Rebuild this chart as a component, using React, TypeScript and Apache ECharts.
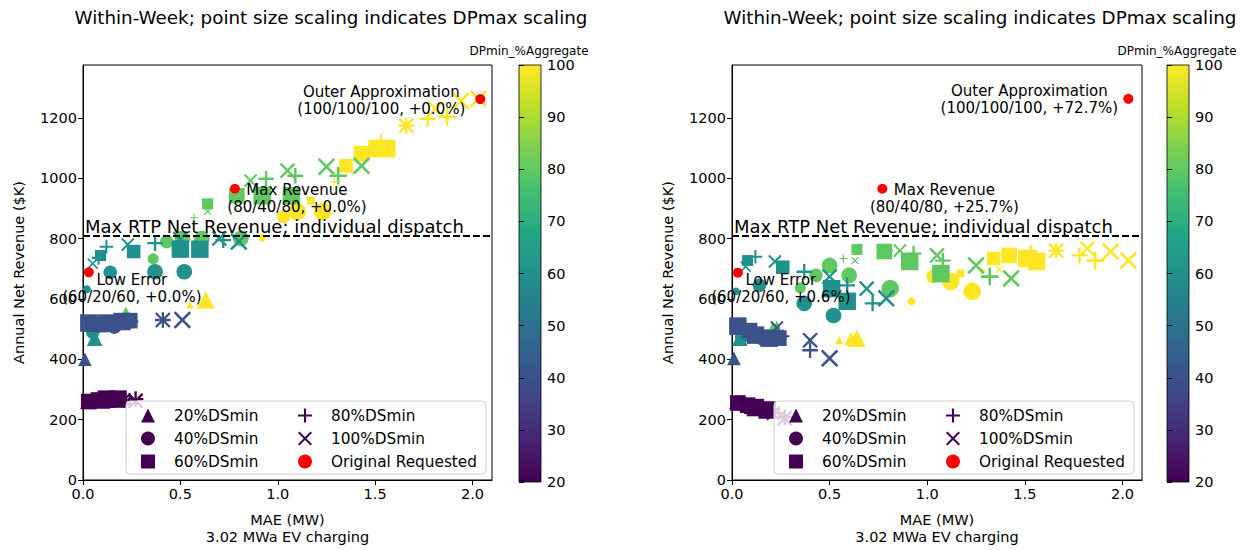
import React, { useEffect, useRef } from 'react';
import * as echarts from 'echarts';

// ---------- text ----------
const TITLE = 'Within-Week; point size scaling indicates DPmax scaling';
const X_NAME = 'MAE (MW)\n3.02 MWa EV charging';
const Y_NAME = 'Annual Net Revenue ($K)';
const CB_NAME = 'DPmin_%Aggregate';
const DS_NAMES = ['20%DSmin', '40%DSmin', '60%DSmin', '80%DSmin', '100%DSmin'];
const ORIG_NAME = 'Original Requested';
const RTP_LABEL = 'Max RTP Net Revenue; individual dispatch';
const RTP_LINE = 810;

// ---------- axes ----------
const X_MIN = 0, X_MAX = 2.1, X_TICK = 0.5;
const Y_MIN = 0, Y_MAX = 1375, Y_TICK = 200;
const X_TICKS = [0, 0.5, 1.0, 1.5, 2.0];
const Y_TICKS = [0, 200, 400, 600, 800, 1000, 1200];
const CB_MIN = 20, CB_MAX = 100, CB_TICK = 10;

const VIRIDIS = ['#440154', '#482475', '#414487', '#355f8d', '#2a788e', '#21918c', '#22a884', '#44bf70', '#7ad151', '#bddf26', '#fde725'];

// ---------- data: [MAE, revenue $K, DPmin %, DPmax %] ----------
// Left panel
const leftDS20 = [
  [0.02, 258, 20, 60], [0.10, 262, 20, 80],
  [0.01, 400, 40, 60], [0.05, 510, 40, 40],
  [0.06, 470, 60, 80],
  [0.22, 562, 80, 20],
  [0.55, 580, 100, 20], [0.63, 597, 100, 100],
];
const leftDS40 = [
  [0.04, 262, 20, 40], [0.14, 265, 20, 60],
  [0.02, 515, 40, 40], [0.06, 505, 40, 60], [0.16, 510, 40, 80],
  [0.02, 632, 60, 20], [0.05, 490, 60, 60], [0.14, 688, 60, 60], [0.37, 690, 60, 80], [0.52, 690, 60, 80],
  [0.36, 733, 80, 40], [0.43, 790, 80, 60], [0.51, 800, 80, 80], [0.61, 800, 80, 80], [0.81, 800, 80, 80],
  [0.92, 803, 100, 20], [1.03, 873, 100, 60], [1.10, 889, 100, 100], [1.23, 889, 100, 100],
];
const leftDS60 = [
  [0.03, 260, 20, 80], [0.08, 265, 20, 80], [0.12, 268, 20, 100], [0.18, 268, 20, 100],
  [0.03, 520, 40, 100], [0.09, 515, 40, 80], [0.12, 520, 40, 100], [0.20, 525, 40, 100], [0.24, 528, 40, 80],
  [0.09, 744, 60, 40], [0.26, 757, 60, 60], [0.50, 765, 60, 100], [0.60, 765, 60, 100],
  [0.64, 915, 80, 40], [0.79, 942, 80, 80], [0.92, 942, 80, 100], [1.07, 942, 80, 100],
  [1.17, 925, 100, 20], [1.35, 1041, 100, 60], [1.43, 1081, 100, 80], [1.51, 1098, 100, 100], [1.56, 1098, 100, 100],
];
const leftDS80 = [
  [0.24, 265, 20, 60], [0.27, 268, 20, 80],
  [0.25, 525, 40, 60], [0.41, 530, 40, 80],
  [0.08, 736, 60, 60], [0.12, 773, 60, 60], [0.37, 785, 60, 80], [0.72, 795, 60, 80],
  [0.57, 869, 80, 20], [0.94, 998, 80, 80], [1.09, 1008, 80, 80], [1.31, 1008, 80, 100],
  [1.29, 988, 100, 20], [1.53, 1124, 100, 60], [1.66, 1174, 100, 80], [1.77, 1197, 100, 80], [1.87, 1203, 100, 100],
];
const leftDS100 = [
  [0.21, 265, 20, 60], [0.27, 262, 20, 80],
  [0.41, 530, 40, 80], [0.51, 530, 40, 100],
  [0.05, 717, 60, 40], [0.23, 780, 60, 60], [0.50, 798, 60, 80], [0.70, 800, 60, 80], [0.80, 790, 60, 100],
  [0.64, 890, 80, 20], [0.86, 992, 80, 60], [1.05, 1025, 80, 80], [1.25, 1038, 80, 100], [1.43, 1041, 80, 100],
  [1.37, 1025, 100, 20], [1.66, 1174, 100, 80], [1.81, 1230, 100, 80], [1.94, 1256, 100, 100], [2.03, 1263, 100, 100],
];
const leftOrig = [[0.03, 688], [0.78, 965], [2.04, 1262]];
const leftOrigLabels = ['Low Error\n(60/20/60, +0.0%)', 'Max Revenue\n(80/40/80, +0.0%)', 'Outer Approximation\n(100/100/100, +0.0%)'];

// Right panel
const rightDS20 = [
  [0.02, 258, 20, 60], [0.10, 245, 20, 80],
  [0.01, 403, 40, 60],
  [0.04, 470, 60, 80],
  [0.21, 512, 80, 20], [0.23, 515, 80, 20],
  [0.55, 463, 100, 20], [0.61, 468, 100, 60], [0.64, 470, 100, 100],
];
const rightDS40 = [
  [0.04, 255, 20, 40], [0.14, 235, 20, 60],
  [0.02, 505, 40, 40], [0.06, 490, 40, 60], [0.16, 470, 40, 80],
  [0.02, 625, 60, 20], [0.05, 475, 60, 60], [0.14, 645, 60, 60], [0.37, 585, 60, 80], [0.52, 545, 60, 80],
  [0.35, 637, 80, 40], [0.43, 678, 80, 60], [0.50, 711, 80, 80], [0.60, 678, 80, 80], [0.81, 634, 80, 100],
  [0.92, 592, 100, 20], [1.03, 674, 100, 60], [1.12, 658, 100, 100], [1.23, 625, 100, 100],
];
const rightDS60 = [
  [0.03, 255, 20, 80], [0.08, 248, 20, 80], [0.12, 240, 20, 100], [0.18, 232, 20, 100],
  [0.03, 510, 40, 100], [0.09, 495, 40, 80], [0.12, 480, 40, 100], [0.19, 470, 40, 100], [0.24, 470, 40, 80],
  [0.08, 727, 60, 40], [0.26, 705, 60, 60], [0.51, 634, 60, 100], [0.59, 592, 60, 100],
  [0.64, 764, 80, 40], [0.78, 757, 80, 80], [0.91, 724, 80, 100], [1.07, 684, 80, 100],
  [1.17, 684, 100, 20], [1.34, 734, 100, 60], [1.42, 744, 100, 80], [1.51, 734, 100, 100], [1.56, 724, 100, 100],
];
const rightDS80 = [
  [0.24, 222, 20, 60], [0.27, 208, 20, 80],
  [0.26, 476, 40, 60], [0.40, 430, 40, 80],
  [0.12, 740, 60, 60], [0.37, 690, 60, 80], [0.59, 645, 60, 80], [0.72, 585, 60, 80],
  [0.57, 734, 80, 20], [0.79, 760, 80, 60], [0.93, 750, 80, 80], [1.08, 727, 80, 80], [1.32, 674, 80, 100],
  [1.28, 694, 100, 20], [1.53, 757, 100, 60], [1.66, 760, 100, 80], [1.78, 744, 100, 80], [1.86, 727, 100, 100],
];
const rightDS100 = [
  [0.21, 220, 20, 60], [0.27, 205, 20, 80],
  [0.23, 505, 40, 60], [0.40, 463, 40, 80], [0.50, 403, 40, 100],
  [0.07, 707, 60, 40], [0.22, 724, 60, 60], [0.50, 674, 60, 80], [0.69, 634, 60, 80], [0.79, 602, 60, 100],
  [0.63, 727, 80, 20], [0.86, 760, 80, 60], [1.05, 744, 80, 80], [1.25, 711, 80, 100], [1.43, 668, 80, 100],
  [1.37, 698, 100, 20], [1.66, 760, 100, 80], [1.82, 767, 100, 80], [1.94, 757, 100, 100], [2.03, 727, 100, 100],
];
const rightOrig = [[0.03, 687], [0.77, 965], [2.03, 1263]];
const rightOrigLabels = ['Low Error\n(60/20/60, +0.6%)', 'Max Revenue\n(80/40/80, +25.7%)', 'Outer Approximation\n(100/100/100, +72.7%)'];

// ---------- styling ----------
const FONT = 'DejaVu Sans';
const PLUS = 'path://M8.5,0H11.5V8.5H20V11.5H11.5V20H8.5V11.5H0V8.5H8.5Z';
const CROSS = 'path://M0,2.1L2.1,0L10,7.9L17.9,0L20,2.1L12.1,10L20,17.9L17.9,20L10,12.1L2.1,20L0,17.9L7.9,10Z';
const SYMBOLS = ['triangle', 'circle', 'rect', PLUS, CROSS];
const LABEL_OFFSETS = [[43, 16], [62, 10], [-99, 1]];

const PANELS = [
  { grid: { left: 83, top: 65, width: 409, height: 417 }, cb: { left: 519, top: 65, width: 22, height: 417 }, titleX: 331, cbTitleX: 529, legendL: 126, ds: [leftDS20, leftDS40, leftDS60, leftDS80, leftDS100], orig: leftOrig, labels: leftOrigLabels },
  { grid: { left: 732, top: 65, width: 410, height: 417 }, cb: { left: 1167, top: 65, width: 22, height: 417 }, titleX: 980, cbTitleX: 1177, legendL: 774, ds: [rightDS20, rightDS40, rightDS60, rightDS80, rightDS100], orig: rightOrig, labels: rightOrigLabels },
];

function buildOption() {
  const grids: any[] = [];
  const xAxes: any[] = [];
  const yAxes: any[] = [];
  const series: any[] = [];
  const titles: any[] = [];
  const legends: any[] = [];
  const graphics: any[] = [];
  const vmSeries: number[] = [];

  const tickLabel = { color: '#000', fontSize: 14.5, fontFamily: FONT };
  const gradient = {
    type: 'linear', x: 0, y: 1, x2: 0, y2: 0,
    colorStops: VIRIDIS.map((c, i) => ({ offset: i / (VIRIDIS.length - 1), color: c })),
  };

  PANELS.forEach((p) => {
    const gi = grids.length;
    grids.push({ ...p.grid, show: true, borderColor: '#000', borderWidth: 1, backgroundColor: '#fff' });
    xAxes.push({
      gridIndex: gi, type: 'value', min: X_MIN, max: X_MAX, interval: X_TICK,
      axisLine: { show: true, onZero: false, lineStyle: { color: '#000', width: 1 } },
      axisTick: { show: true, length: 5, lineStyle: { color: '#000' }, customValues: X_TICKS },
      axisLabel: { ...tickLabel, margin: 6, customValues: X_TICKS, formatter: (v: number) => v.toFixed(1) },
      splitLine: { show: false },
      name: X_NAME, nameLocation: 'middle', nameGap: 31,
      nameTextStyle: { color: '#000', fontSize: 14.5, fontFamily: FONT, lineHeight: 17 },
    });
    yAxes.push({
      gridIndex: gi, type: 'value', min: Y_MIN, max: Y_MAX, interval: Y_TICK,
      axisLine: { show: true, onZero: false, lineStyle: { color: '#000', width: 1 } },
      axisTick: { show: true, length: 5, lineStyle: { color: '#000' }, customValues: Y_TICKS },
      axisLabel: { ...tickLabel, margin: 6, customValues: Y_TICKS, formatter: (v: number) => String(Math.round(v)) },
      splitLine: { show: false },
      name: Y_NAME, nameLocation: 'middle', nameGap: 57,
      nameTextStyle: { color: '#000', fontSize: 14.5, fontFamily: FONT },
    });

    // shape series
    p.ds.forEach((arr, k) => {
      vmSeries.push(series.length);
      series.push({
        type: 'scatter', name: DS_NAMES[k], xAxisIndex: gi, yAxisIndex: gi,
        symbol: SYMBOLS[k],
        symbolSize: (v: number[]) => 1.75 * Math.sqrt(v[3]),
        itemStyle: { color: '#440154', opacity: 1 },
        data: arr, z: 2,
      });
    });

    // original requested + reference line
    series.push({
      type: 'scatter', name: ORIG_NAME, xAxisIndex: gi, yAxisIndex: gi,
      symbol: 'circle', symbolSize: 10, itemStyle: { color: '#ff0000', opacity: 1 }, z: 3,
      data: p.orig.map((pt, i) => ({
        value: pt,
        label: {
          show: true, position: 'inside', formatter: p.labels[i], offset: LABEL_OFFSETS[i],
          align: 'center', verticalAlign: 'middle', color: '#000', fontSize: 15, fontFamily: FONT, lineHeight: 17,
        },
      })),
      markLine: {
        silent: true, symbol: 'none', animation: false,
        data: [{ yAxis: RTP_LINE }],
        lineStyle: { color: '#000', width: 2, type: [7, 3], opacity: 1 },
        label: {
          show: true, position: 'insideStartTop', formatter: RTP_LABEL, distance: [2, 0],
          color: '#000', fontSize: 18, fontFamily: FONT,
        },
      },
    });

    titles.push({ text: TITLE, left: p.titleX, top: 8, textAlign: 'center', padding: 0, textStyle: { fontSize: 18.3, fontWeight: 'normal', color: '#000', fontFamily: FONT } });
    titles.push({ text: CB_NAME, left: p.cbTitleX, top: 45, textAlign: 'center', padding: 0, textStyle: { fontSize: 12, fontWeight: 'normal', color: '#000', fontFamily: FONT } });

    // legend box
    graphics.push({
      type: 'rect', z: 3, shape: { x: p.legendL, y: 401, width: 360, height: 73, r: 4 },
      style: { fill: 'rgba(255,255,255,0.8)', stroke: '#d0d0d0', lineWidth: 1 },
    });
    const legendCommon = {
      orient: 'vertical', top: 408, itemWidth: 14, itemHeight: 14, itemGap: 8, selectedMode: false, z: 10,
      textStyle: { color: '#000', fontSize: 15.3, fontFamily: FONT, padding: [0, 0, 0, 14] },
      padding: 0,
    };
    legends.push({
      ...legendCommon, left: p.legendL + 15,
      data: DS_NAMES.slice(0, 3).map((n) => ({ name: n, itemStyle: { color: '#440154' } })),
    });
    legends.push({
      ...legendCommon, left: p.legendL + 172,
      data: [
        { name: DS_NAMES[3], itemStyle: { color: '#440154' } },
        { name: DS_NAMES[4], itemStyle: { color: '#440154' } },
        { name: ORIG_NAME, itemStyle: { color: '#ff0000' }, icon: 'circle' },
      ],
    });
  });

  // colorbar grids
  PANELS.forEach((p) => {
    const ci = grids.length;
    grids.push({ ...p.cb, show: true, borderColor: '#000', borderWidth: 0.8, backgroundColor: gradient });
    xAxes.push({ gridIndex: ci, type: 'value', min: 0, max: 1, show: false });
    yAxes.push({
      gridIndex: ci, type: 'value', position: 'right', min: CB_MIN, max: CB_MAX, interval: CB_TICK,
      axisLine: { show: false },
      axisTick: { show: true, length: 5, lineStyle: { color: '#000' } },
      axisLabel: { ...tickLabel, margin: 6 },
      splitLine: { show: false },
    });
  });

  return {
    animation: false,
    textStyle: { fontFamily: FONT },
    title: titles,
    grid: grids,
    xAxis: xAxes,
    yAxis: yAxes,
    legend: legends,
    visualMap: [{
      show: false, type: 'continuous', min: CB_MIN, max: CB_MAX, dimension: 2,
      seriesIndex: vmSeries, inRange: { color: VIRIDIS },
    }],
    graphic: graphics,
    series,
  };
}

export default function App() {
  const ref = useRef<HTMLDivElement>(null);
  useEffect(() => {
    document.body.style.margin = '0';
    if (!ref.current) return;
    const chart = echarts.init(ref.current, null, { renderer: 'svg' });
    chart.setOption(buildOption() as any);
    return () => chart.dispose();
  }, []);
  return <div ref={ref} style={{ width: 1246, height: 550, background: '#fff' }} />;
}
